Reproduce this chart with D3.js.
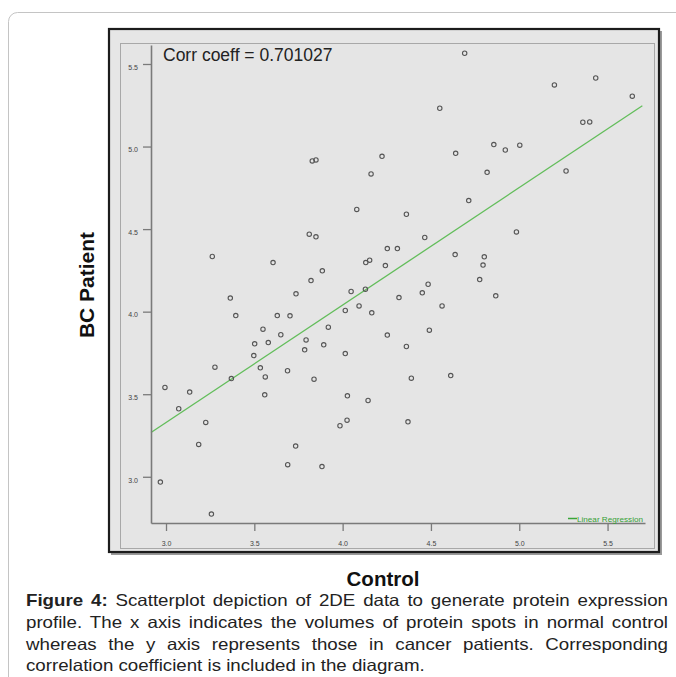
<!DOCTYPE html>
<html>
<head>
<meta charset="utf-8">
<script src="https://cdn.jsdelivr.net/npm/d3@7"></script>
<style>
  html, body { margin: 0; padding: 0; background: #ffffff; }
  svg { display: block; }
</style>
</head>
<body>
<svg id="chart" width="676" height="677"></svg>
<script>
// ---- Data ----
const controlValues = [
  3.828, 3.849, 4.223, 4.161, 4.080, 4.691, 5.199, 5.433, 5.640, 4.550,
  5.360, 5.399, 4.856, 4.921, 5.003, 4.640, 4.818, 5.265, 4.714, 3.811,
  3.849, 3.262, 3.606, 4.253, 4.310, 4.131, 4.153, 4.242, 3.885, 3.821,
  3.736, 4.048, 4.129, 3.364, 4.319, 4.015, 4.093, 4.165, 3.395, 3.630,
  3.702, 3.549, 3.919, 3.650, 4.253, 3.502, 3.579, 3.793, 3.893, 3.785,
  3.497, 4.015, 3.277, 3.534, 3.688, 4.361, 4.984, 4.465, 4.637, 4.802,
  4.795, 4.776, 4.484, 4.451, 4.867, 4.563, 4.491, 4.361, 2.994, 3.134,
  3.370, 3.562, 3.838, 3.559, 4.027, 4.144, 3.072, 3.225, 3.985, 4.025,
  3.185, 3.734, 3.689, 3.883, 2.968, 3.257, 4.389, 4.612, 4.370
];
const bcPatientValues = [
  4.913, 4.919, 4.941, 4.834, 4.619, 5.565, 5.373, 5.415, 5.305, 5.232,
  5.147, 5.149, 5.012, 4.979, 5.008, 4.959, 4.844, 4.852, 4.673, 4.469,
  4.453, 4.334, 4.297, 4.382, 4.382, 4.297, 4.312, 4.279, 4.247, 4.188,
  4.108, 4.122, 4.136, 4.082, 4.085, 4.007, 4.035, 3.993, 3.976, 3.976,
  3.975, 3.894, 3.906, 3.860, 3.858, 3.805, 3.813, 3.829, 3.799, 3.769,
  3.734, 3.746, 3.664, 3.660, 3.642, 4.590, 4.483, 4.449, 4.346, 4.332,
  4.282, 4.194, 4.166, 4.114, 4.096, 4.035, 3.888, 3.789, 3.541, 3.513,
  3.595, 3.605, 3.591, 3.496, 3.490, 3.462, 3.412, 3.329, 3.309, 3.343,
  3.196, 3.186, 3.073, 3.062, 2.968, 2.774, 3.597, 3.613, 3.333
];
const xTickValues = [3.0, 3.5, 4.0, 4.5, 5.0, 5.5];
const yTickValues = [3.0, 3.5, 4.0, 4.5, 5.0, 5.5];
const regressionIntercept = [1.193];
const regressionSlope = [0.7117];
const regressionXExtent = [2.915, 5.697];
const corrText = ["Corr coeff = 0.701027"];
const legendLabels = ["Linear Regression"];
const xAxisTitle = ["Control"];
const yAxisTitle = ["BC Patient"];
const captionBold = ["Figure 4:"];
const captionLines = [
  " Scatterplot depiction of 2DE data to generate protein expression",
  "profile. The x axis indicates the volumes of protein spots in normal control",
  "whereas the y axis represents those in cancer patients. Corresponding",
  "correlation coefficient is included in the diagram."
];

// ---- Drawing ----
const svg = d3.select("#chart");
const FONT = "'Liberation Sans', Arial, Helvetica, sans-serif";

// card border
svg.append("rect")
  .attr("x", 8.5).attr("y", 12.5).attr("width", 720).attr("height", 720)
  .attr("rx", 9).attr("fill", "#fff").attr("stroke", "#c4c4c4").attr("stroke-width", 1);

// chart frame (shadow + black border)
svg.append("rect")
  .attr("x", 111).attr("y", 31).attr("width", 551).attr("height", 524)
  .attr("fill", "#9a9a9a");
svg.append("rect")
  .attr("x", 109).attr("y", 29).attr("width", 550).attr("height", 523)
  .attr("fill", "#e6e6e6").attr("stroke", "#1c1c1c").attr("stroke-width", 2.2);
// inner panel
svg.append("rect")
  .attr("x", 120.5).attr("y", 43.5).attr("width", 534).attr("height", 505)
  .attr("fill", "#e5e5e5").attr("stroke", "#a8a8a8").attr("stroke-width", 1);

const x = d3.scaleLinear().domain([2.915, 5.712]).range([151, 645]);
const y = d3.scaleLinear().domain([2.72, 5.615]).range([523, 45]);

// regression line
const regFn = v => regressionIntercept[0] + regressionSlope[0] * v;
svg.append("line")
  .attr("x1", x(regressionXExtent[0])).attr("y1", y(regFn(regressionXExtent[0])))
  .attr("x2", x(regressionXExtent[1])).attr("y2", y(regFn(regressionXExtent[1])))
  .attr("stroke", "#62bd5a").attr("stroke-width", 1.3);

// axes
const xAxis = d3.axisBottom(x).tickValues(xTickValues).tickFormat(d3.format(".1f"))
  .tickSize(8).tickPadding(10).tickSizeOuter(0);
const yAxis = d3.axisLeft(y).tickValues(yTickValues).tickFormat(d3.format(".1f"))
  .tickSize(8).tickPadding(5).tickSizeOuter(0);

const gx = svg.append("g").attr("transform", "translate(0,523)").call(xAxis);
const gy = svg.append("g").attr("transform", "translate(151,0)").call(yAxis);
[gx, gy].forEach(g => {
  g.select(".domain").attr("stroke", "#7a7a7a").attr("stroke-width", 1.6);
  g.selectAll(".tick line").attr("stroke", "#7a7a7a").attr("stroke-width", 1.3);
  g.selectAll(".tick text").attr("fill", "#444").attr("font-family", FONT)
    .attr("font-size", 7);
});
gy.selectAll(".tick text").attr("dy", "0.75em");

// points
svg.append("g").selectAll("circle")
  .data(controlValues.map((c, i) => [c, bcPatientValues[i]]))
  .join("circle")
  .attr("cx", d => x(d[0])).attr("cy", d => y(d[1]))
  .attr("r", 2.2)
  .attr("fill", "none").attr("stroke", "#555").attr("stroke-width", 1.1);

// corr text
svg.append("text").attr("x", 163).attr("y", 61)
  .attr("font-family", FONT).attr("font-size", 17.5).attr("fill", "#222")
  .text(corrText[0]);

// legend
svg.append("line").attr("x1", 568).attr("x2", 577).attr("y1", 518.5).attr("y2", 518.5)
  .attr("stroke", "#3aa53a").attr("stroke-width", 1.5);
svg.append("text").attr("x", 577).attr("y", 522)
  .attr("font-family", FONT).attr("font-size", 8).attr("fill", "#35a035")
  .attr("textLength", 66).attr("lengthAdjust", "spacingAndGlyphs")
  .text(legendLabels[0]);

// axis titles
svg.append("text").attr("x", 383).attr("y", 586).attr("text-anchor", "middle")
  .attr("font-family", FONT).attr("font-weight", "bold").attr("font-size", 20.5)
  .attr("fill", "#111").text(xAxisTitle[0]);
svg.append("text")
  .attr("transform", "translate(94,285) rotate(-90)")
  .attr("text-anchor", "middle")
  .attr("font-family", FONT).attr("font-weight", "bold").attr("font-size", 21)
  .attr("fill", "#111").text(yAxisTitle[0]);

// caption
const sx = 1.134;
const cap = svg.append("g").attr("transform", `scale(${sx},1)`);
const left = 26, right = 668;
const baselines = [606, 627.8, 649.6, 671.4];
captionLines.forEach((line, i) => {
  const t = cap.append("text")
    .attr("x", left / sx).attr("y", baselines[i])
    .attr("font-family", FONT).attr("font-size", 16.5).attr("fill", "#222");
  let full = line;
  if (i === 0) {
    t.append("tspan").attr("font-weight", "bold").text(captionBold[0]);
    full = captionBold[0] + line;
  }
  t.append("tspan").text(line);
  if (i < captionLines.length - 1) {
    const natural = t.node().getComputedTextLength();
    const target = (right - left) / sx;
    const spaces = (full.match(/ /g) || []).length;
    const ws = (target - natural) / spaces;
    if (ws > 0) t.attr("word-spacing", ws);
  }
});
</script>
</body>
</html>
